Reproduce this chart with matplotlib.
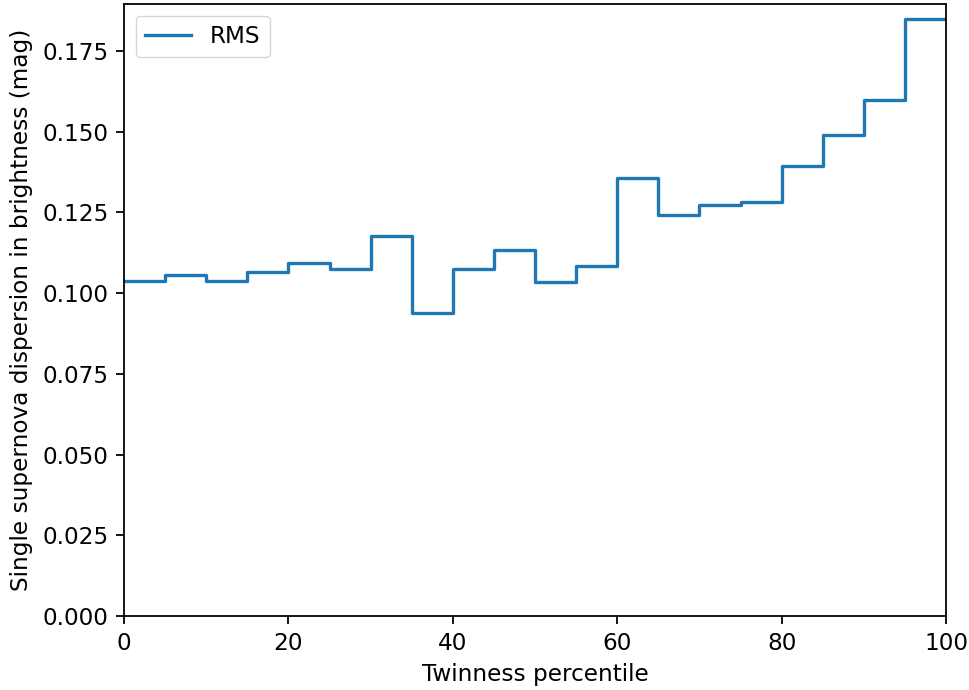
import numpy as np
import matplotlib
matplotlib.use("Agg")
import matplotlib.pyplot as plt

# Twinness percentile bin edges (5-percentile bins)
bin_edges = np.arange(0, 101, 5)
# RMS single supernova dispersion in each bin (mag)
rms = [0.1038, 0.1056, 0.1036, 0.1065, 0.1092, 0.1076, 0.1178, 0.0938,
       0.1075, 0.1134, 0.1034, 0.1084, 0.1356, 0.1243, 0.1274, 0.1283,
       0.1392, 0.1489, 0.1599, 0.1849]

scale = 1.6
plt.rcParams.update({
    "font.size": 16.7,
    "axes.linewidth": 0.8 * scale,
    "xtick.major.width": 0.8 * scale,
    "ytick.major.width": 0.8 * scale,
    "xtick.major.size": 3.5 * scale,
    "ytick.major.size": 3.5 * scale,
    "xtick.major.pad": 3.5 * scale,
    "ytick.major.pad": 3.5 * scale,
})

fig = plt.figure(figsize=(9.69, 6.9), dpi=100)
ax = fig.add_axes([124 / 969, 1 - 616 / 690, (946 - 124) / 969, (616 - 4) / 690])

ax.step(bin_edges, rms + [rms[-1]], where="post", color="#1f77b4",
        lw=1.5 * scale, label="RMS")

ax.set_xlim(0, 100)
ax.set_ylim(0, max(rms) * 1.025)
ax.set_yticks(np.arange(0, 0.176, 0.025))
ax.set_xlabel("Twinness percentile", labelpad=4 * scale)
ax.set_ylabel("Single supernova dispersion in brightness (mag)", labelpad=4 * scale)
ax.legend(loc="upper left")

fig.savefig("out.png", dpi=100)
